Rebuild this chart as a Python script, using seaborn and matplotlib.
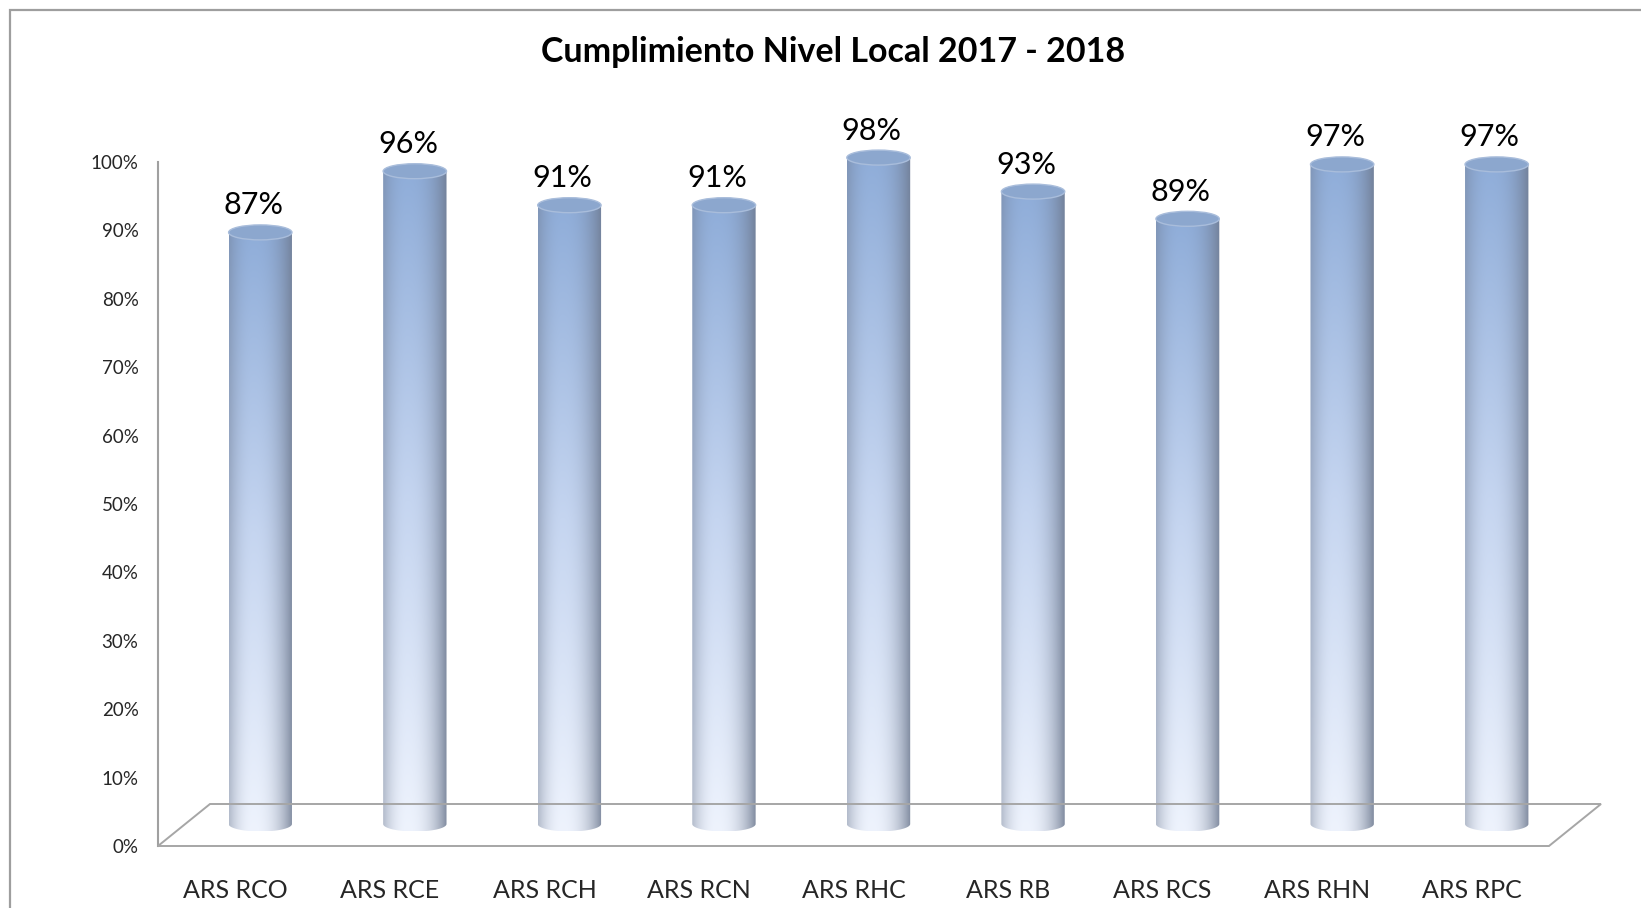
import numpy as np
import pandas as pd
import matplotlib
matplotlib.use("Agg")
import matplotlib.pyplot as plt
import matplotlib.transforms as mtransforms
from matplotlib.patches import Ellipse, Polygon, Rectangle
import seaborn as sns

# --- data -------------------------------------------------------------
regiones = ["ARS RCO", "ARS RCE", "ARS RCH", "ARS RCN", "ARS RHC",
            "ARS RB", "ARS RCS", "ARS RHN", "ARS RPC"]
cumplimiento = [87, 96, 91, 91, 98, 93, 89, 97, 97]
ticks_pct = [0, 10, 20, 30, 40, 50, 60, 70, 80, 90, 100]
titulo = "Cumplimiento Nivel Local 2017 - 2018"

df = pd.DataFrame({"region": regiones, "valor": cumplimiento})

sns.set_theme(style="white")
plt.rcParams["font.family"] = ["Lato", "DejaVu Sans"]

W, H = 1641, 908
fig = plt.figure(figsize=(W / 100, H / 100), dpi=100)
fig.patch.set_facecolor("white")


def px_axes(left, top, right, bottom):
    return fig.add_axes([left / W, 1 - bottom / H, (right - left) / W, (bottom - top) / H])


# outer chart frame (runs off the right and bottom edges)
fig.patches.append(Rectangle((10 / W, -0.05), 1.1, 1 - 10 / H + 0.05,
                             transform=fig.transFigure, fill=False,
                             edgecolor="#9E9E9E", linewidth=1.6))

# front frame: carries the value scale and category labels
ax = px_axes(158, 162, 1549, 846)
ax.set_xlim(-0.5, len(regiones) - 0.5)
ax.set_ylim(0, 100)
ax.set_facecolor("none")
ax.set_yticks(ticks_pct)
ax.set_yticklabels([f"{t}%" for t in ticks_pct], fontsize=13.5)
ax.set_xticks(range(len(regiones)))
ax.set_xticklabels(regiones, fontsize=18)
ax.tick_params(axis="y", length=0, pad=14)
ax.tick_params(axis="x", length=0, pad=24)
for s in ["top", "right", "bottom"]:
    ax.spines[s].set_visible(False)
ax.spines["left"].set_color("#A0A0A0")
ax.spines["left"].set_linewidth(1.5)
ax.grid(False)

# floor of the 3-D frame: front edge along the axes, back edge shifted in depth
depth = mtransforms.ScaledTranslation(52 / 100, 42 / 100, fig.dpi_scale_trans)
front = ax.transAxes
back = ax.transAxes + depth
floor_pts = [front.transform((0, 0)), front.transform((1, 0)),
             back.transform((1, 0)), back.transform((0, 0))]
inv = fig.transFigure.inverted()
floor_fig = [inv.transform(p) for p in floor_pts]
fig.patches.append(Polygon(floor_fig, closed=True, fill=False,
                           edgecolor="#A6A6A6", linewidth=1.4,
                           transform=fig.transFigure, zorder=0))

# bar plane (mid depth of the 3-D box)
axb = px_axes(183, 144, 1574, 824)
sns.barplot(data=df, x="region", y="valor", ax=axb, width=0.41,
            color="#95B3DD", saturation=1)
axb.set_xlim(-0.5, len(regiones) - 0.5)
axb.set_ylim(0, 100)
axb.set_facecolor("none")
axb.axis("off")

# cylinder shading: vertical blue->pale, darker rims on the sides
top_c = np.array([143, 173, 217]) / 255
mid_c = np.array([197, 213, 240]) / 255
bot_c = np.array([238, 243, 253]) / 255
rim_c = np.array([110, 122, 144]) / 255


def shade_image(nh=200, nw=80):
    tt = np.linspace(0, 1, nh)
    col = np.empty((nh, 3))
    for k in range(3):
        col[:, k] = np.interp(tt, [0, 0.5, 1], [top_c[k], mid_c[k], bot_c[k]])
    u = np.linspace(0, 1, nw)
    peak = 0.38
    a = np.where(u < peak, 0.45 * ((peak - u) / peak) ** 2.2,
                 0.85 * ((u - peak) / (1 - peak)) ** 2.4)
    img = col[:, None, :] * (1 - a[None, :, None]) + rim_c[None, None, :] * a[None, :, None]
    return np.clip(img, 0, 1)


img = shade_image()
cap_h = 15 / 6.8  # ellipse height in data units (15 px)

for patch, val in zip(axb.patches, cumplimiento):
    x0 = patch.get_x()
    w = patch.get_width()
    x1 = x0 + w
    xc = x0 + w / 2
    h = patch.get_height()
    patch.set_visible(False)

    # cylinder body: rectangle closed by the lower half of the base ellipse
    theta = np.linspace(np.pi, 2 * np.pi, 60)
    outline = [(x0, h), (x0, 0)]
    outline += [(xc + w / 2 * np.cos(th), cap_h / 2 * np.sin(th)) for th in theta]
    outline += [(x1, h)]
    clip = Polygon(outline, closed=True, transform=axb.transData,
                   facecolor="none", edgecolor="none", clip_on=False)
    axb.add_patch(clip)
    im = axb.imshow(img, extent=[x0, x1, -cap_h / 2, h], aspect="auto",
                    origin="upper", zorder=2, interpolation="bilinear")
    im.set_clip_box(fig.bbox)
    im.set_clip_path(clip)

    axb.add_patch(Ellipse((xc, h), w, cap_h, facecolor="#8CA7CE",
                          edgecolor="#A9BDDB", linewidth=1.0, zorder=3))

    axb.annotate(f"{val}%", xy=(xc, h + cap_h / 2), xytext=(-5, 4),
                 textcoords="offset points", ha="center", va="bottom",
                 fontsize=22, color="black", annotation_clip=False)

axb.set_xlim(-0.5, len(regiones) - 0.5)
axb.set_ylim(0, 100)

fig.text(833 / W, 1 - 52 / H, titulo, ha="center", va="center",
         fontsize=24.5, fontweight="bold", color="black")

fig.savefig("out.png", dpi=100, facecolor="white")
